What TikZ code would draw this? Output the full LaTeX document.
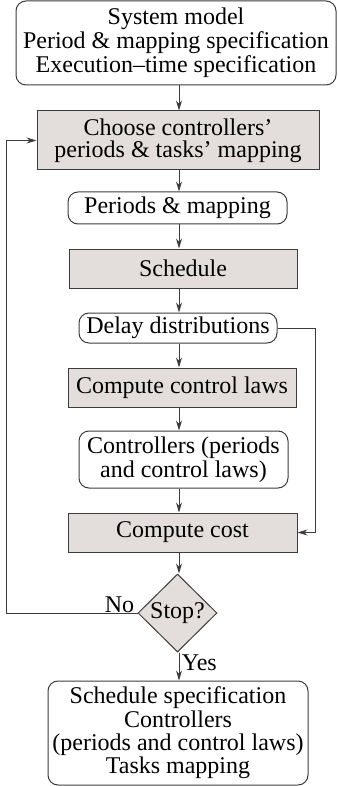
\documentclass[tikz,border=0pt]{standalone}
\usepackage{fontspec}
\setmainfont{Liberation Serif}
\usetikzlibrary{arrows.meta,shapes.geometric}
\definecolor{boxfill}{RGB}{227,222,220}
\definecolor{linegray}{RGB}{60,60,60}
\tikzset{
  procbox/.style={draw=linegray, fill=boxfill, line width=0.5pt, inner sep=0pt, align=center},
  databox/.style={draw=linegray, rounded corners=5pt, line width=0.5pt, inner sep=0pt, align=center},
  decision/.style={diamond, draw=linegray, fill=boxfill, line width=0.5pt, inner sep=0pt, aspect=1},
  flow/.style={-{Stealth[length=5pt,width=3pt]}, draw=linegray, line width=0.5pt}
}

\begin{document}
\begin{tikzpicture}[x=0.5pt,y=-0.5pt,font=\fontsize{12}{12}\selectfont]
  \useasboundingbox (0,0) rectangle (337,786);
  \coordinate (axis) at (179,0);
  \coordinate (loop) at (6,0);
  \coordinate (side) at (315,0);

  \node[databox, minimum width=160pt, minimum height=42pt] (spec) at (176,43)
    {System model\\Period \& mapping specification\\Execution--time specification};
  \node[procbox, minimum width=141pt, minimum height=29.5pt] (choose) at (178,140.5)
    {Choose controllers'\\[-1pt]periods \& tasks' mapping};
  \node[databox, minimum width=109.5pt, minimum height=16pt] (periods) at (177.5,208)
    {Periods \& mapping};
  \node[procbox, minimum width=114pt, minimum height=19.5pt] (sched) at (183,268.5)
    {Schedule};
  \node[databox, minimum width=99pt, minimum height=15pt] (delay) at (178,328)
    {Delay distributions};
  \node[procbox, minimum width=114pt, minimum height=19.5pt] (laws) at (182,387.5)
    {Compute control laws};
  \node[databox, minimum width=104.5pt, minimum height=28.5pt] (ctrl) at (183.5,459.5)
    {Controllers (periods\\and control laws)};
  \node[procbox, minimum width=114.5pt, minimum height=19.5pt] (cost) at (182.5,532.5)
    {Compute cost};
  \node[decision, minimum width=39.5pt, minimum height=39pt] (stop) at (177.5,613)
    {Stop?};
  \node[databox, minimum width=130pt, minimum height=52pt] (result) at (178,733)
    {Schedule specification\\Controllers\\[-0.5pt](periods and control laws)\\[-0.5pt]Tasks mapping};

  \node[anchor=base east, inner sep=0pt] (no) at ([xshift=-1.5pt,yshift=0.5pt]stop.west) {No};
  \node[anchor=base west, inner sep=0pt] (yes) at ([xshift=2pt,yshift=-9pt]stop.south) {Yes};

  % main chain
  \draw[flow] (spec.south -| axis) -- (choose.north -| axis);
  \draw[flow] (choose.south -| axis) -- (periods.north -| axis);
  \draw[flow] (periods.south -| axis) -- (sched.north -| axis);
  \draw[flow] (sched.south -| axis) -- (delay.north -| axis);
  \draw[flow] (delay.south -| axis) -- (laws.north -| axis);
  \draw[flow] (laws.south -| axis) -- (ctrl.north -| axis);
  \draw[flow] (ctrl.south -| axis) -- (cost.north -| axis);
  \draw[flow] (cost.south -| axis) -- (stop.north -| axis);
  \draw[flow] (stop.south -| axis) -- (result.north -| axis);

  % delays straight to the cost
  \draw[flow] (delay.east) -- (delay.east -| side) -- (cost.east -| side) -- (cost.east);
  % back to the start
  \draw[flow] (stop.west) -- (stop.west -| loop) -- (choose.west -| loop) -- (choose.west);
\end{tikzpicture}
\end{document}
